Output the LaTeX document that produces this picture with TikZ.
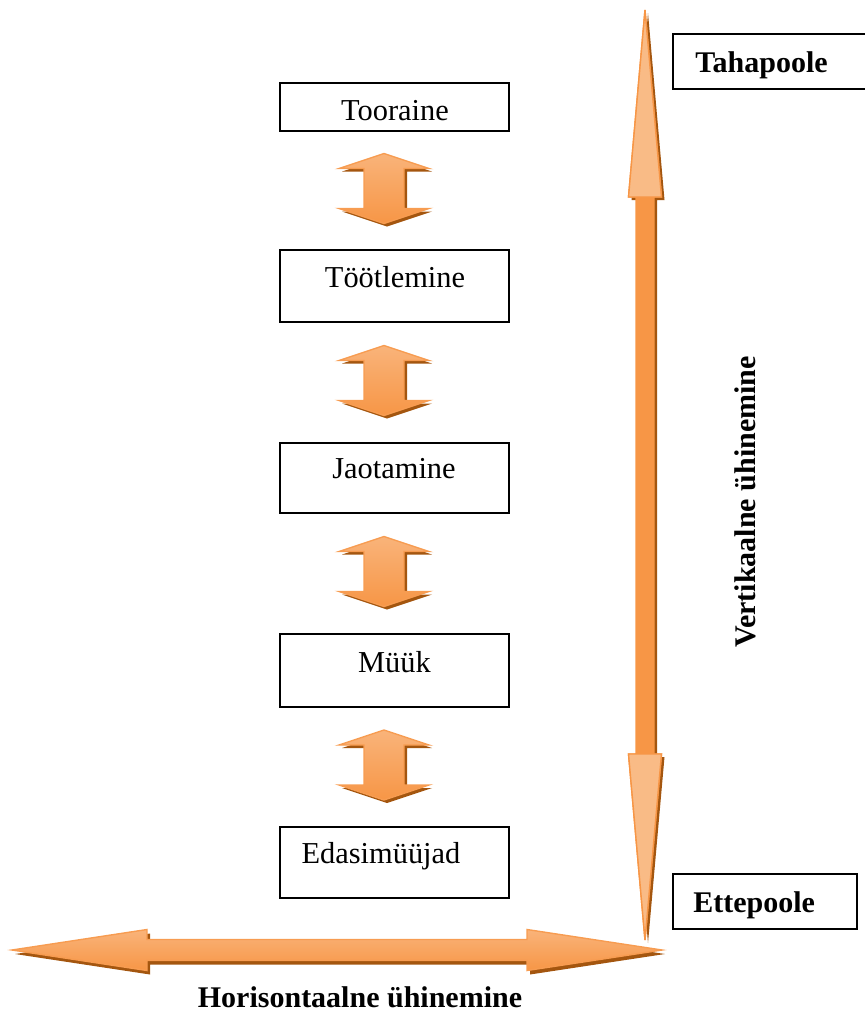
\documentclass[tikz,border=0pt]{standalone}
\usepackage{fontspec}
\setmainfont{Liberation Serif}
\usetikzlibrary{calc}
\definecolor{orMain}{HTML}{F79646}
\definecolor{orLight}{HTML}{FAC090}
\definecolor{orPeach}{HTML}{F9BB86}
\definecolor{orShadow}{HTML}{A4560F}
\tikzset{
  box/.style={draw=black, line width=1pt, fill=white, minimum width=114.5pt, inner sep=0pt},
  lbl/.style={font=\fontsize{15.2pt}{18pt}\selectfont, inner sep=0pt, anchor=base},
  blbl/.style={font=\fontsize{15pt}{18pt}\selectfont\bfseries, inner sep=0pt},
  arrfill/.style={draw=orMain!85!orLight, line width=0.7pt, line join=miter, top color=orLight!70!orMain, middle color=orMain, bottom color=orMain},
  shadowfill/.style={fill=orShadow},
  smallarrow/.pic={
    \fill[shadowfill] (3,-32) -- (48,-17) -- (23,-17) -- (23,23) -- (48,23) -- (3,38) -- (-42,23) -- (-17,23) -- (-17,-17) -- (-42,-17) -- cycle;
    \path[arrfill] (0,-35) -- (45,-20) -- (20,-20) -- (20,20) -- (45,20) -- (0,35) -- (-45,20) -- (-20,20) -- (-20,-20) -- (-45,-20) -- cycle;
  }
}
\begin{document}
\begin{tikzpicture}[x=0.5pt, y=-0.5pt]
\useasboundingbox (0,0) rectangle (864,1012);

% chain boxes
\node[box, minimum height=24pt]   (b1) at (394.5,107)   {};
\node[box, minimum height=36pt]   (b2) at (394.5,286)   {};
\node[box, minimum height=35pt]   (b3) at (394.5,478)   {};
\node[box, minimum height=36.5pt] (b4) at (394.5,670.5) {};
\node[box, minimum height=35.5pt] (b5) at (394.5,862.5) {};

\node[lbl] (t1) at (395,120) {Tooraine};
\node[lbl] (t2) at (395,287.5) {Töötlemine};
\node[lbl] (t3) at (394,478) {Jaotamine};
\node[lbl] (t4) at (394.5,672) {Müük};
\node[lbl] (t5) at (381,863) {Edasimüüjad};

% small double arrows between boxes
\foreach \a/\b/\m in {b1/b2/m1, b2/b3/m2, b3/b4/m3, b4/b5/m4}{
  \coordinate (\m) at ($(\a.south)!0.5!(\b.north)+(-10.5,-2)$);
  \pic at (\m) {smallarrow};
}

% right boxes
\node[box, minimum width=98.5pt, minimum height=27.5pt] (tah) at (771.5,61.5) {};
\node[blbl, anchor=base west] (taht) at (695,72) {Tahapoole};
\node[box, minimum width=92pt, minimum height=27.5pt] (ette) at (765,901.5) {};
\node[blbl, anchor=base west] (ettet) at (693,912) {Ettepoole};

% big vertical arrow
\coordinate (vtop) at (645,10);
\coordinate (vbot) at (645,940);
\fill[shadowfill] (648,13) -- (664.5,200) -- (657,200) -- (657,757) -- (664.5,757) -- (648,943) -- (631.5,757) -- (639,757) -- (639,200) -- (631.5,200) -- cycle;
\path[draw=orMain, line width=0.7pt, fill=orMain] (vtop) -- (661.5,197) -- (654,197) -- (654,754) -- (661.5,754) -- (vbot) -- (628.5,754) -- (636,754) -- (636,197) -- (628.5,197) -- cycle;
\path[draw=orMain, line width=0.7pt, fill=orPeach] (vtop) -- (661.5,197) -- (628.5,197) -- cycle;
\path[draw=orMain, line width=0.7pt, fill=orPeach] (vbot) -- (661.5,754) -- (628.5,754) -- cycle;

% big horizontal arrow
\coordinate (hl) at (12,950);
\coordinate (hr) at (662,950);
\fill[shadowfill] (15,954) -- (150,933.5) -- (150,943.5) -- (530,943.5) -- (530,933.5) -- (665,954) -- (530,974.5) -- (530,964.5) -- (150,964.5) -- (150,974.5) -- cycle;
\path[arrfill] (hl) -- (147,929.5) -- (147,939.5) -- (527,939.5) -- (527,929.5) -- (hr) -- (527,970.5) -- (527,960.5) -- (147,960.5) -- (147,970.5) -- cycle;

% axis labels
\node[blbl, rotate=90] (vlab) at (745,502) {Vertikaalne ühinemine};
\node[blbl, anchor=base] (hlab) at (360,1007) {Horisontaalne ühinemine};
\end{tikzpicture}
\end{document}
